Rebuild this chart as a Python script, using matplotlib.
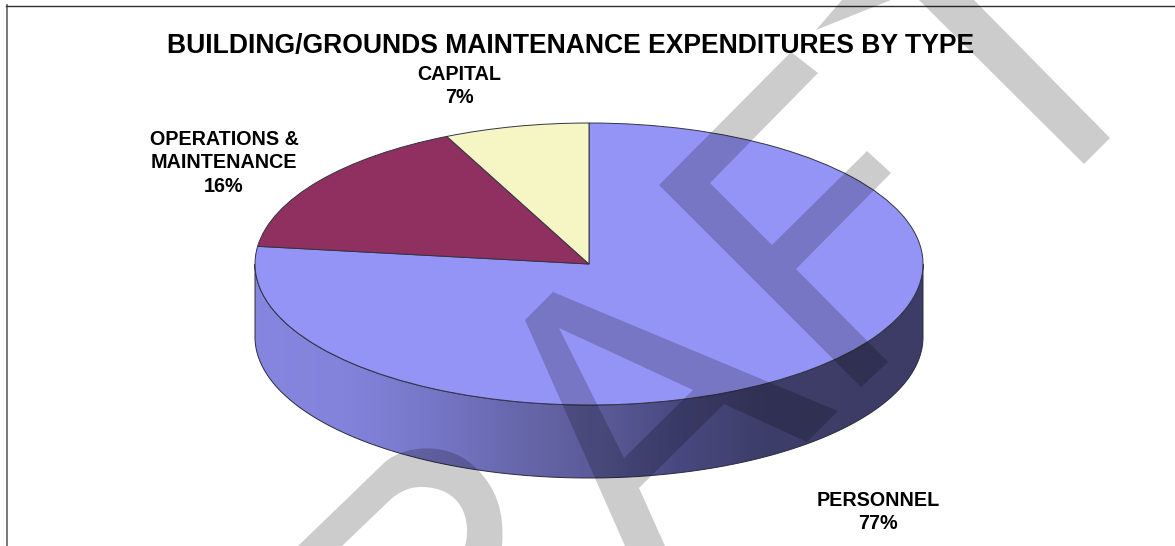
#!/usr/bin/env python
"""Building/grounds maintenance expenditures by type, 3-D style pie with DRAFT watermark."""
from __future__ import annotations

import matplotlib
matplotlib.use("Agg")
import matplotlib.pyplot as plt
import numpy as np
from matplotlib.colors import LinearSegmentedColormap
from matplotlib.patches import PathPatch
from matplotlib.path import Path

W, H = 1175, 546

TITLE = "BUILDING/GROUNDS MAINTENANCE EXPENDITURES BY TYPE"
CATEGORIES = ["PERSONNEL", "OPERATIONS &\nMAINTENANCE", "CAPITAL"]
VALUES = [77, 16, 7]
COLORS = ["#9494f7", "#903060", "#f6f6c4"]
LABEL_XY = [(878, 512), (224, 163), (459, 86)]

# pie geometry on the page, in pixels
CX, CY = 589, 264
RX, RY = 334, 141
DEPTH = 73

# side wall shading, left to right
SIDE_STOPS = [(0.0, "#8686e0"), (0.13, "#8383dc"), (0.26, "#7777c8"), (0.40, "#6666aa"),
              (0.52, "#5a5a98"), (0.64, "#484880"), (0.76, "#3e3e6a"), (1.0, "#3c3c66")]

# watermark outlines, page pixels
WM_F = [(659, 185), (791, 52), (818, 73), (710, 183), (772, 245), (867, 151),
        (891, 173), (796, 269), (888, 362), (861, 387)]
WM_T_STEM = [(919, 0), (974, 0), (1110, 138), (1084, 164)]
WM_T_BAR = [(816, 30), (842, 0), (891, 0)]
WM_A = [(553, 292), (838, 411), (807, 442), (724, 404), (639, 488), (665, 546),
        (625, 546), (525, 320)]
WM_A_HOLE = [(559, 328), (624, 458), (693, 390)]  # wound the other way so it stays open

# the round stroke at the bottom, as bezier segments
WM_R_VERTS = [(298, 546), (385, 462), (405, 445), (450, 440), (478, 470),
              (495, 488), (505, 510), (502, 546), (465, 546),
              (472, 520), (462, 487), (421, 487), (410, 487), (400, 491), (390, 500),
              (342, 546), (298, 546)]
WM_R_CODES = [Path.MOVETO, Path.LINETO, Path.CURVE4, Path.CURVE4, Path.CURVE4,
              Path.CURVE4, Path.CURVE4, Path.CURVE4, Path.LINETO,
              Path.CURVE4, Path.CURVE4, Path.CURVE4, Path.CURVE4, Path.CURVE4, Path.CURVE4,
              Path.LINETO, Path.CLOSEPOLY]


def poly_path(points: list[tuple[float, float]]) -> tuple[list, list]:
    verts = list(points) + [points[0]]
    codes = [Path.MOVETO] + [Path.LINETO] * (len(points) - 1) + [Path.CLOSEPOLY]
    return verts, codes


def pixel_axes(fig, zorder: int):
    ax = fig.add_axes([0, 0, 1, 1], zorder=zorder)
    ax.set_xlim(0, W)
    ax.set_ylim(H, 0)
    ax.axis("off")
    ax.patch.set_alpha(0)
    return ax


def main() -> None:
    plt.rcParams["font.family"] = ["Liberation Sans", "DejaVu Sans"]
    fig = plt.figure(figsize=(W / 100, H / 100), dpi=100, facecolor="white")

    # ── frame and side wall ────────────────────────────────────────────
    back = pixel_axes(fig, 1)
    back.plot([6.5, 6.5], [H, 5], color="#707070", lw=1.3)
    back.plot([6, W], [5.5, 5.5], color="#303030", lw=1.0)

    t = np.linspace(np.pi, 0, 200)
    xs = CX + RX * np.cos(t)
    lower = CY + RY * np.sin(t)
    side = np.vstack([np.column_stack([xs, lower]),
                      np.column_stack([xs[::-1], lower[::-1] + DEPTH]),
                      [[xs[0], lower[0]]]])
    side_patch = PathPatch(Path(side, closed=True), fc="none", ec="#2a2a40", lw=0.7, zorder=3)
    back.add_patch(side_patch)
    cmap = LinearSegmentedColormap.from_list("side", SIDE_STOPS)
    grad = back.imshow(np.linspace(0, 1, 400)[None, :], cmap=cmap, aspect="auto",
                       extent=(CX - RX, CX + RX, CY + RY + DEPTH, CY), zorder=2)
    grad.set_clip_path(side_patch)
    back.set_xlim(0, W)
    back.set_ylim(H, 0)

    # ── top face ───────────────────────────────────────────────────────
    pie_ax = fig.add_axes([(CX - RX) / W, (H - CY - RY) / H, 2 * RX / W, 2 * RY / H], zorder=2)
    pie_ax.pie(VALUES, colors=COLORS, startangle=90, counterclock=False, radius=1,
               wedgeprops=dict(edgecolor="#333344", linewidth=0.7))
    pie_ax.set_aspect("auto")
    pie_ax.set_xlim(-1, 1)
    pie_ax.set_ylim(-1, 1)

    # ── watermark + text ───────────────────────────────────────────────
    over = pixel_axes(fig, 3)
    verts, codes = list(WM_R_VERTS), list(WM_R_CODES)
    for shape in (WM_F, WM_T_STEM, WM_T_BAR, WM_A, WM_A_HOLE):
        v, c = poly_path(shape)
        verts += v
        codes += c
    over.add_patch(PathPatch(Path(verts, codes), fc="black", ec="none", alpha=0.2))

    over.text(571, 45.5, TITLE, ha="center", va="center", fontsize=19.1, fontweight="bold")
    for cat, val, (x, y) in zip(CATEGORIES, VALUES, LABEL_XY):
        over.text(x, y, f"{cat}\n{val}%", ha="center", va="center", fontsize=14.2,
                  fontweight="bold", linespacing=1.32)

    fig.savefig("out.png", dpi=100)


if __name__ == "__main__":
    main()
